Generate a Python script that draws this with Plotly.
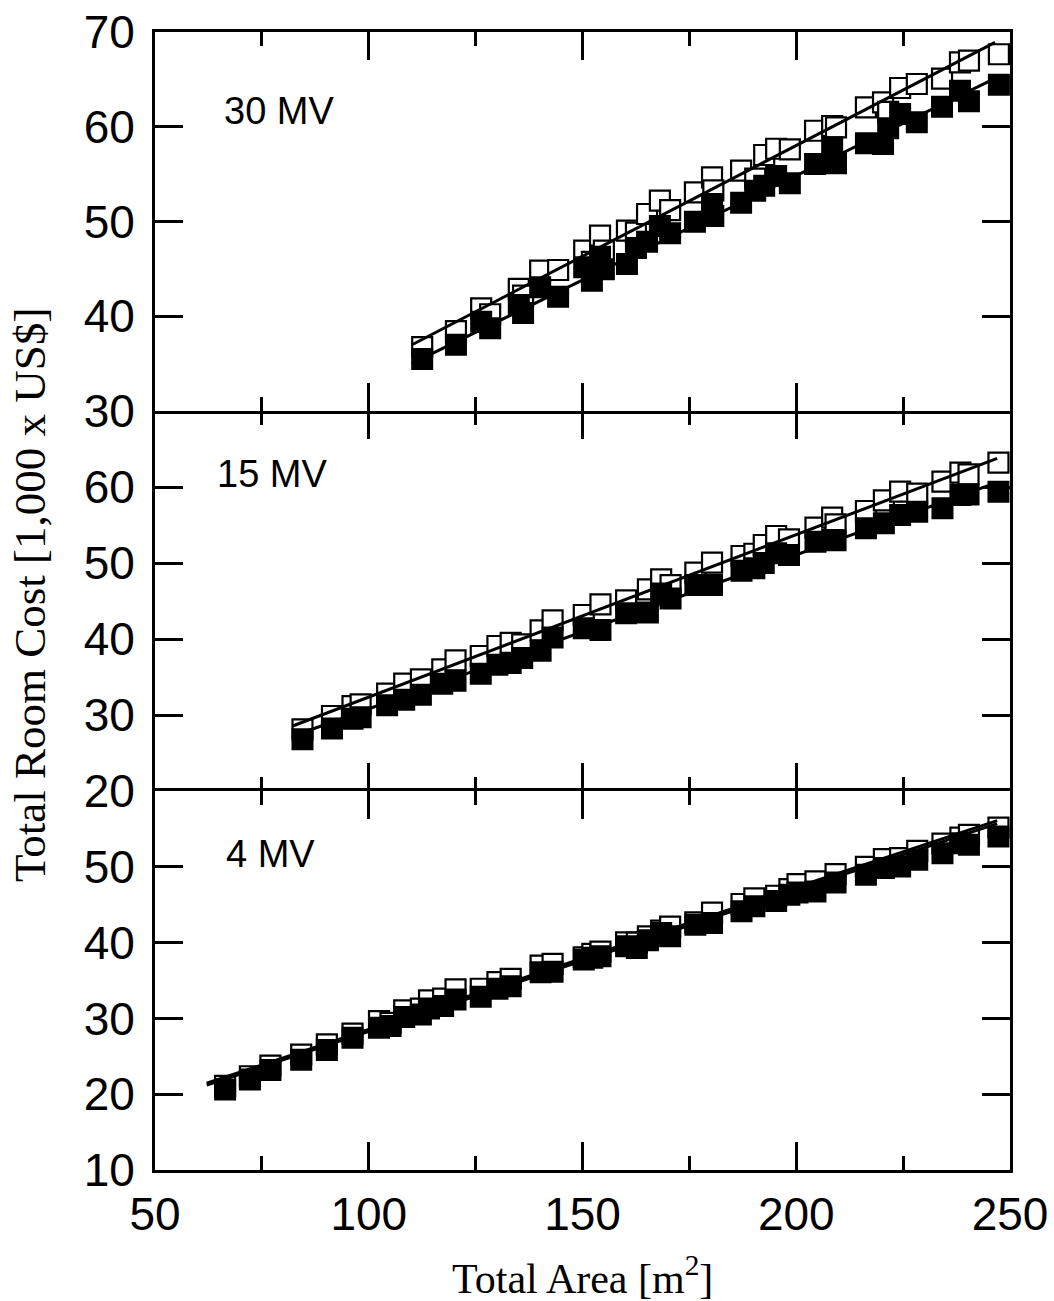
import plotly.graph_objects as go
from plotly.subplots import make_subplots

# Total room area [m^2] and total room cost [1,000 x US$] for three beam energies
# open squares / filled squares are the two cost estimates for the same rooms

area_30mv = [112.5, 120.4, 126.3, 128.4, 135.1, 136.1, 140.1, 144.3, 150.4, 152.2, 154.1, 155.0,
             160.4, 162.5, 165.1, 168.1, 170.5, 176.3, 180.3, 180.6, 187.1, 190.4, 192.5, 195.3,
             198.5, 204.4, 208.4, 209.3, 216.3, 220.3, 221.5, 224.3, 228.2, 234.1, 238.3, 240.4, 247.4]
open_30mv = [36.75, 38.44, 40.84, 40.21, 42.88, 42.17, 44.81, 44.88, 46.92, 45.73, 48.5, 46.92,
             49.03, 48.82, 50.79, 52.2, 51.21, 53.08, 54.66, 53.29, 55.36, 54.52, 57.02, 57.68,
             57.62, 59.58, 60.08, 59.94, 62.05, 62.58, 61.56, 64.09, 64.51, 65.07, 66.8, 66.97, 67.65]
filled_30mv = [35.49, 37.0, 39.42, 38.73, 41.19, 40.34, 43.06, 42.06, 45.17, 43.75, 46.28, 44.96,
               45.51, 47.2, 47.87, 49.53, 48.75, 49.98, 51.85, 50.58, 51.98, 53.25, 53.78, 54.8,
               54.03, 56.07, 57.83, 56.14, 58.25, 58.18, 59.84, 61.35, 60.47, 62.12, 63.8, 62.69, 64.44]

area_15mv = [84.5, 91.4, 96.2, 98.1, 104.3, 108.3, 112.2, 117.2, 120.3, 126.2, 130.1, 133.2, 135.9,
             140.2, 143.0, 150.3, 154.2, 160.2, 165.3, 168.4, 170.6, 176.4, 180.3, 187.2, 190.2,
             192.4, 195.3, 198.3, 204.5, 208.4, 209.2, 216.3, 220.5, 224.3, 228.3, 234.2, 238.4,
             240.3, 247.3]
open_15mv = [28.12, 29.87, 31.18, 31.4, 32.8, 34.12, 34.7, 36.0, 37.2, 37.76, 39.08, 39.5, 39.3,
             41.14, 42.46, 43.16, 44.56, 45.09, 46.54, 47.85, 47.1, 48.73, 50.04, 50.92, 51.22,
             52.37, 53.55, 53.12, 54.65, 55.96, 55.09, 56.84, 58.25, 59.38, 59.12, 60.7, 61.88,
             61.67, 63.2]
filled_15mv = [26.8, 28.24, 29.5, 29.7, 31.28, 32.0, 32.67, 34.12, 34.5, 35.43, 36.6, 36.84, 37.5,
               38.46, 40.2, 41.41, 41.18, 43.38, 43.5, 46.0, 45.34, 47.1, 47.1, 48.99, 49.3,
               50.0, 51.28, 51.05, 52.8, 53.03, 53.0, 54.57, 55.22, 56.32, 56.75, 57.2, 58.95,
               59.0, 59.38]

area_4mv = [66.4, 72.2, 77.0, 84.2, 90.2, 96.2, 102.4, 105.1, 108.3, 112.2, 114.1, 117.4, 120.3,
            126.2, 130.1, 133.2, 140.2, 143.0, 150.3, 152.3, 154.2, 160.2, 162.7, 165.3, 168.4,
            170.5, 176.4, 180.3, 187.2, 190.2, 195.3, 198.4, 200.3, 204.5, 209.2, 216.3, 220.5,
            224.3, 228.3, 234.2, 238.4, 240.4, 247.3]
open_4mv = [21.1, 22.37, 23.77, 25.22, 26.58, 27.98, 29.64, 29.4, 31.05, 31.3, 32.37, 32.6, 33.82,
            33.91, 34.78, 35.22, 36.97, 37.2, 38.07, 38.5, 38.82, 40.04, 40.0, 40.83, 41.58,
            42.1, 42.67, 43.95, 45.09, 45.83, 46.18, 47.06, 47.72, 48.07, 49.04, 50.0, 51.01,
            51.14, 52.11, 53.07, 53.86, 54.21, 55.17]
filled_4mv = [20.62, 21.93, 23.2, 24.56, 25.83, 27.46, 28.78, 29.0, 30.2, 30.53, 31.3, 31.63, 32.5,
              32.85, 33.9, 34.25, 36.1, 36.14, 37.76, 37.99, 38.2, 39.51, 39.3, 40.3, 41.28,
              40.83, 42.37, 42.59, 44.12, 44.78, 45.5, 46.32, 46.6, 46.75, 47.93, 48.95, 49.83,
              50.04, 50.92, 51.8, 53.12, 52.9, 53.99]

# linear fits (end points) for each series
fit_area_30mv = [110.0, 246.5]
fit_open_30mv = [36.97, 68.9]
fit_filled_30mv = [35.0, 65.1]
fit_area_15mv = [82.2, 247.0]
fit_open_15mv = [28.55, 63.77]
fit_filled_15mv = [27.2, 60.6]
fit_area_4mv = [62.1, 247.0]
fit_open_4mv = [21.45, 56.1]
fit_filled_4mv = [21.2, 55.7]

panel_labels = ["30 MV", "15 MV", "4 MV"]
y_ranges = [[30, 70], [20, 70], [10, 60]]
y_ticks = [[30, 40, 50, 60, 70], [20, 30, 40, 50, 60], [10, 20, 30, 40, 50]]
x_ticks = [50, 100, 150, 200, 250]

panels = [
    (area_30mv, open_30mv, filled_30mv, fit_area_30mv, fit_open_30mv, fit_filled_30mv),
    (area_15mv, open_15mv, filled_15mv, fit_area_15mv, fit_open_15mv, fit_filled_15mv),
    (area_4mv, open_4mv, filled_4mv, fit_area_4mv, fit_open_4mv, fit_filled_4mv),
]

W, H = 1054, 1301
M_L, M_R, M_T, M_B = 155, 44, 32, 131
plot_h = H - M_T - M_B
panel_px = [379, 380, 379]

fig = make_subplots(rows=3, cols=1, vertical_spacing=0)

sans = "Liberation Sans, Arial, sans-serif"
serif = "Liberation Serif, Times New Roman, serif"

for i, (ax, yo, yf, fx, fo, ff) in enumerate(panels):
    r = i + 1
    fig.add_trace(go.Scatter(x=ax, y=yo, mode="markers", showlegend=False,
                             marker=dict(symbol="square", size=20, color="white",
                                         line=dict(color="black", width=2.2))), row=r, col=1)
    fig.add_trace(go.Scatter(x=ax, y=yf, mode="markers", showlegend=False,
                             marker=dict(symbol="square", size=20, color="black",
                                         line=dict(color="black", width=2))), row=r, col=1)
    fig.add_trace(go.Scatter(x=fx, y=fo, mode="lines", showlegend=False,
                             line=dict(color="black", width=3)), row=r, col=1)
    fig.add_trace(go.Scatter(x=fx, y=ff, mode="lines", showlegend=False,
                             line=dict(color="black", width=3)), row=r, col=1)

# panel domains (top panel first)
bottoms = []
acc = 0
for h in reversed(panel_px):
    bottoms.append(acc)
    acc += h
bottoms = list(reversed(bottoms))
for i in range(3):
    r = i + 1
    lo = bottoms[i] / plot_h
    hi = (bottoms[i] + panel_px[i]) / plot_h
    fig.update_yaxes(domain=[lo, min(hi, 1.0)], range=y_ranges[i], tickvals=y_ticks[i],
                     ticks="inside", ticklen=28, tickwidth=2.5, tickcolor="black",
                     showline=True, linewidth=3, linecolor="black", mirror="allticks",
                     showgrid=False, zeroline=False, ticklabelstandoff=8, automargin=False,
                     tickfont=dict(family=sans, size=46, color="black"),
                     row=r, col=1)
    # the middle panel shares its frame lines with the panels above and below
    fig.update_xaxes(range=[50, 250], tickvals=x_ticks,
                     ticks="inside", ticklen=28, tickwidth=2.5, tickcolor="black",
                     minor=dict(dtick=25, tick0=50, ticks="inside", ticklen=14,
                                tickwidth=2.5, tickcolor="black"),
                     showline=(r != 2), linewidth=3, linecolor="black", mirror="allticks",
                     showgrid=False, zeroline=False, showticklabels=(r == 3),
                     ticklabelstandoff=2, automargin=False,
                     tickfont=dict(family=sans, size=46, color="black"),
                     row=r, col=1)
    xref = "x" if r == 1 else f"x{r}"
    yref = "y" if r == 1 else f"y{r}"
    label_y = [61.66, 61.7, 51.7][i]
    label_x = [65.7, 64.0, 66.1][i]
    fig.add_annotation(x=label_x, y=label_y, xref=xref, yref=yref, text=panel_labels[i],
                       showarrow=False, xanchor="left", yanchor="middle",
                       font=dict(family=sans, size=38, color="black"))

fig.add_annotation(x=0.5, y=-(1276 - (H - M_B)) / plot_h, xref="paper", yref="paper",
                   text="Total Area [m<sup>2</sup>]", showarrow=False,
                   xanchor="center", yanchor="middle",
                   font=dict(family=serif, size=42, color="black"))
fig.add_annotation(x=(30 - M_L) / (W - M_L - M_R), y=((H - M_B) - 595) / plot_h,
                   xref="paper", yref="paper",
                   text="Total Room Cost [1,000 x US$]", showarrow=False, textangle=-90,
                   xanchor="center", yanchor="middle",
                   font=dict(family=serif, size=45, color="black"))

fig.update_layout(width=W, height=H, margin=dict(l=M_L, r=M_R, t=M_T, b=M_B, autoexpand=False),
                  paper_bgcolor="white", plot_bgcolor="white", showlegend=False)

fig.write_html("out.html")
